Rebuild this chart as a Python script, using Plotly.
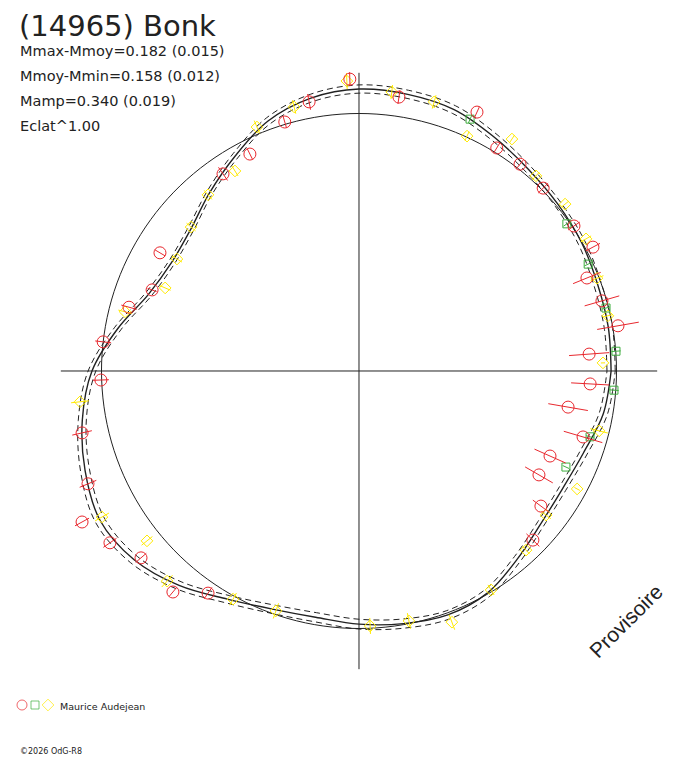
"""
Courbe de lumiere en polaire pour (14965) Bonk
rayon 1 = cercle de reference, angle = phase (deg)
"""

import plotly.graph_objects as go

title = "(14965) Bonk"
stats = ["Mmax-Mmoy=0.182 (0.015)",
         "Mmoy-Mmin=0.158 (0.012)",
         "Mamp=0.340 (0.019)",
         "Eclat^1.00"]
observer = "Maurice Audejean"
credit = "\u00a92026 OdG-R8"
stamp = "Provisoire"

# cercle de reference et longueur des axes
circle_r = 1.0
axis_len = 1.158
r_max = 1.27

# courbe ajustee (phase en deg, rayon) + demi largeur de l'enveloppe
fit_theta = [0, 10, 20, 30, 40, 50, 60, 70, 80, 90, 100, 110,
             120, 130, 140, 150, 160, 170, 180, 190, 200, 210, 220, 230,
             240, 250, 260, 270, 280, 290, 300, 310, 320, 330, 340, 350]
fit_r = [0.979, 0.983, 0.986, 0.998, 1.008, 1.023, 1.049, 1.080, 1.091, 1.095, 1.076, 1.033,
         0.963, 0.903, 0.854, 0.841, 0.870, 0.951, 1.037, 1.091, 1.132, 1.161, 1.140, 1.087,
         1.023, 0.984, 0.971, 0.983, 0.996, 1.008, 0.996, 0.955, 0.922, 0.913, 0.928, 0.963]
fit_err = [0.016, 0.016, 0.015, 0.014, 0.013, 0.014, 0.015, 0.016, 0.016, 0.016, 0.015, 0.014,
           0.013, 0.012, 0.012, 0.012, 0.013, 0.014, 0.015, 0.016, 0.018, 0.019, 0.018, 0.017,
           0.016, 0.017, 0.018, 0.019, 0.018, 0.017, 0.016, 0.015, 0.014, 0.014, 0.015, 0.016]

# session 1 (cercles rouges)
red_theta = [91.8, 81.7, 100.5, 106.6, 116.7, 124.6, 149.3, 158.6, 164.5, 173.5,
             182.0, 192.6, 202.6, 208.6, 214.6, 220.6, 229.9, 235.8, 315.8, 323.4,
             330.0, 336.0, 343.6, 350.2, 356.8, 4.2, 9.9, 16.1, 22.2, 27.9,
             34.0, 44.8, 52.1, 58.3, 65.5]
red_r = [1.134, 1.075, 1.063, 1.009, 0.943, 0.930, 0.899, 0.863, 0.927, 1.000,
         1.003, 1.102, 1.140, 1.225, 1.175, 1.115, 1.122, 1.043, 0.942, 0.880,
         0.807, 0.812, 0.907, 0.824, 0.899, 0.896, 1.021, 0.982, 0.956, 1.028,
         1.007, 1.008, 1.018, 1.018, 1.105]
red_err = [0.027, 0.027, 0.031, 0.023, 0.023, 0.031, 0.023, 0.019, 0.031, 0.031,
           0.031, 0.039, 0.035, 0.031, 0.031, 0.027, 0.023, 0.027, 0.035, 0.039,
           0.062, 0.066, 0.078, 0.078, 0.074, 0.078, 0.082, 0.070, 0.058, 0.031,
           0.027, 0.027, 0.023, 0.023, 0.023]

# session 2 (carres verts)
green_theta = [66.2, 35.3, 25.0, 14.3, 4.4, 355.7, 344.1, 335.1]
green_r = [1.069, 0.989, 0.982, 0.990, 1.001, 0.993, 0.933, 0.886]
green_err = [0.016, 0.016, 0.016, 0.016, 0.018, 0.018, 0.016, 0.014]

# session 3 (losanges jaunes)
yellow_theta = [92.4, 83.3, 74.4, 103.8, 112.7, 121.8, 130.6, 139.4, 148.4, 156.8,
                165.8, 186.3, 209.6, 218.7, 227.6, 241.1, 250.9, 272.5, 281.3, 290.3,
                301.1, 313.0, 322.4, 331.6, 346.0, 1.9, 12.5, 21.3, 30.2, 39.0,
                47.8, 56.6, 65.3]
yellow_r = [1.127, 1.091, 1.085, 1.056, 1.027, 0.914, 0.901, 0.859, 0.830, 0.819,
            0.937, 1.090, 1.148, 1.055, 1.105, 1.012, 0.986, 0.991, 0.990, 1.040,
            0.993, 0.951, 0.917, 0.963, 0.961, 0.948, 0.990, 0.992, 1.020, 1.030,
            1.023, 1.079, 1.004]
yellow_err = [0.031, 0.027, 0.027, 0.027, 0.027, 0.023, 0.023, 0.023, 0.023, 0.023,
              0.027, 0.035, 0.031, 0.027, 0.031, 0.027, 0.031, 0.031, 0.031, 0.031,
              0.023, 0.019, 0.023, 0.012, 0.035, 0.008, 0.019, 0.027, 0.023, 0.019,
              0.019, 0.019, 0.019]

RED = "#e8282e"
GREEN = "#3fae3f"
YELLOW = "#ffea00"
INK = "#222222"
FONT = "DejaVu Sans"

# la page ajoute 8px de marge autour de la figure
OFF = 8
W, H = 688 - OFF, 768 - OFF
cx, cy = 359 - OFF, 371 - OFF          # centre du graphe en pixels
rad_px = r_max / circle_r * 257.5


def bars(theta, r, err):
    """segments radiaux r-e .. r+e"""
    bt, br = [], []
    for t, v, e in zip(theta, r, err):
        bt += [t, t, None]
        br += [v - e, v + e, None]
    return bt, br


fig = go.Figure()

# axes en croix
cross_t, cross_r = [], []
for a in [0, 90, 180, 270]:
    cross_t += [a, a, None]
    cross_r += [0, axis_len, None]
fig.add_trace(go.Scatterpolar(theta=cross_t, r=cross_r, mode="lines",
                              line={"color": INK, "width": 1}, hoverinfo="skip"))

# cercle de reference
circ_t = list(range(0, 361, 2))
fig.add_trace(go.Scatterpolar(theta=circ_t, r=[circle_r] * len(circ_t), mode="lines",
                              line={"color": INK, "width": 1}, hoverinfo="skip"))

# courbe ajustee et enveloppe
ft = fit_theta + [360]
fr = fit_r + fit_r[:1]
fe = fit_err + fit_err[:1]
for sign in [-1, 1]:
    fig.add_trace(go.Scatterpolar(theta=ft, r=[v + sign * e for v, e in zip(fr, fe)],
                                  mode="lines",
                                  line={"color": INK, "width": 1, "dash": "6px,4px", "shape": "spline"},
                                  hoverinfo="skip"))
fig.add_trace(go.Scatterpolar(theta=ft, r=fr, mode="lines",
                              line={"color": INK, "width": 1.4, "shape": "spline"}, hoverinfo="skip"))

# points de mesure
for th, rr, ee, col, sym, sz in [
        (yellow_theta, yellow_r, yellow_err, YELLOW, "diamond-open", 9),
        (green_theta, green_r, green_err, GREEN, "square-open", 8),
        (red_theta, red_r, red_err, RED, "circle-open", 12)]:
    bt, br = bars(th, rr, ee)
    fig.add_trace(go.Scatterpolar(theta=bt, r=br, mode="lines",
                                  line={"color": col, "width": 1}, hoverinfo="skip"))
    fig.add_trace(go.Scatterpolar(theta=th, r=rr, mode="markers",
                                  marker={"symbol": sym, "size": sz, "color": col,
                                          "line": {"color": col, "width": 1}}))

# legende (axe cartesien en pixels)
fig.add_trace(go.Scatter(x=[22 - OFF, 35 - OFF, 48 - OFF], y=[705 - OFF] * 3, mode="markers",
                         marker={"symbol": ["circle-open", "square-open", "diamond-open"],
                                 "size": [10, 8, 9], "color": [RED, GREEN, YELLOW],
                                 "line": {"width": 1, "color": [RED, GREEN, YELLOW]}},
                         xaxis="x", yaxis="y", hoverinfo="skip"))

fig.update_layout(
    width=W, height=H,
    margin={"l": 0, "r": 0, "t": 0, "b": 0},
    paper_bgcolor="white", plot_bgcolor="rgba(0,0,0,0)",
    showlegend=False,
    font={"family": FONT, "color": INK},
    polar={
        "domain": {"x": [max(0, (cx - rad_px) / W), min(1, (cx + rad_px) / W)],
                   "y": [(H - cy - rad_px) / H, (H - cy + rad_px) / H]},
        "bgcolor": "rgba(0,0,0,0)",
        "radialaxis": {"range": [0, r_max], "visible": False},
        "angularaxis": {"visible": False, "rotation": 0, "direction": "counterclockwise"},
    },
    xaxis={"range": [0, W], "visible": False, "domain": [0, 1], "fixedrange": True},
    yaxis={"range": [H, 0], "visible": False, "domain": [0, 1], "fixedrange": True},
)

# titre colle en haut de la figure
fig.add_annotation(text=title, xref="x", yref="y", x=18 - OFF, y=0, xanchor="left", yanchor="top",
                   showarrow=False, borderpad=0, font={"size": 29})

ann = []
for i, s in enumerate(stats):
    ann.append(dict(text=s, x=18, y=51 + 25 * i, font={"size": 14.5}))
ann.append(dict(text=observer, x=58, y=706, font={"size": 9.5}))
ann.append(dict(text=credit, x=18, y=751, font={"size": 8}))
for a in ann:
    fig.add_annotation(xref="x", yref="y", xanchor="left", yanchor="middle",
                       showarrow=False, **dict(a, x=a["x"] - OFF, y=a["y"] - OFF))
fig.add_annotation(text=stamp, xref="x", yref="y", x=625 - OFF, y=621 - OFF, textangle=-45,
                   showarrow=False, font={"size": 21, "family": "Liberation Sans", "color": INK})

fig.write_html("out.html")
